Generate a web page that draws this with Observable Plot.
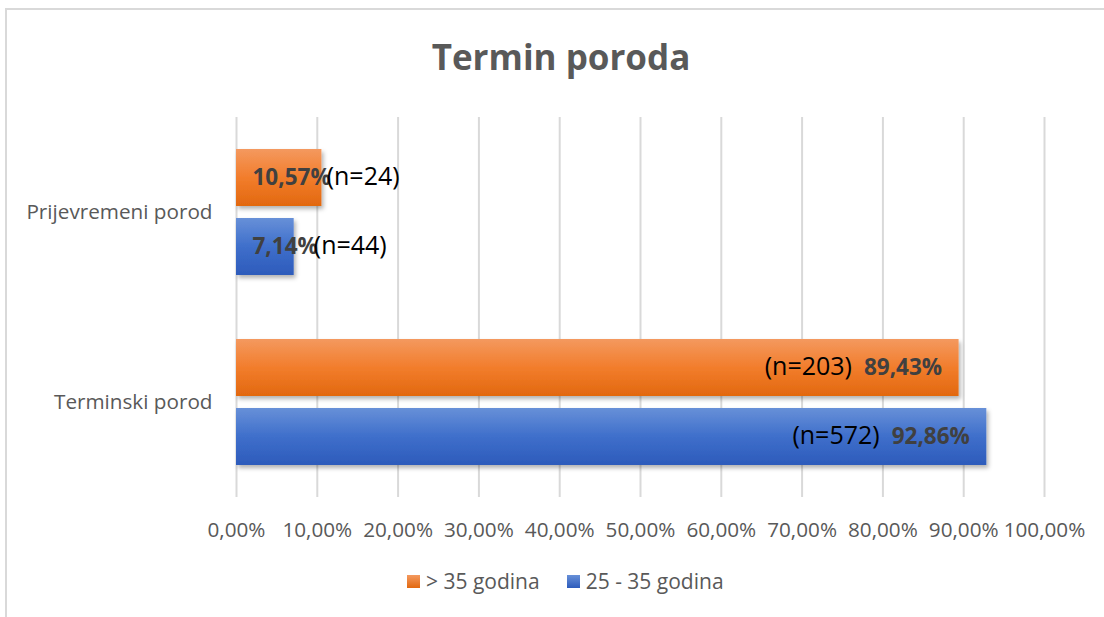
<!DOCTYPE html>
<html>
<head>
<meta charset="utf-8">
<script src="https://cdn.jsdelivr.net/npm/d3@7"></script>
<script src="https://cdn.jsdelivr.net/npm/@observablehq/plot@0.6"></script>
<style>
  body { margin: 0; background: #fff; font-family: "Open Sans", sans-serif; }
  #wrap { position: relative; width: 1104px; height: 617px; overflow: hidden; background: #fff; }
  #frame { position: absolute; left: 5px; top: 8px; width: 1200px; height: 700px; border: 2px solid #d9d9d9; box-sizing: border-box; }
  #title { position: absolute; left: 0; width: 1122px; top: 33px; text-align: center; font-size: 35px; font-weight: bold; color: #595959; }
  #chart { position: absolute; left: 0; top: 0; }
  #legend { position: absolute; top: 567px; left: 407px; font-size: 21px; color: #595959; display: flex; align-items: center; white-space: nowrap; }
  .sw { display: inline-block; width: 13px; height: 13px; margin-right: 6px; }
</style>
</head>
<body>
<div id="wrap">
  <div id="frame"></div>
  <div id="chart"></div>
  <div id="title">Termin poroda</div>
  <div id="legend"></div>
</div>
<script>
// ---- data ----
const categories = ["Prijevremeni porod", "Terminski porod"];
const series = ["> 35 godina", "25 - 35 godina"];
const valuesOver35 = [10.57, 89.43];
const values25to35 = [7.14, 92.86];
const nOver35 = [24, 203];
const n25to35 = [44, 572];
const xTicks = [0, 10, 20, 30, 40, 50, 60, 70, 80, 90, 100];
const seriesColors = ["url(#gradO)", "url(#gradB)"];

const fmtPct = v => v.toFixed(2).replace(".", ",") + "%";
const rows = [];
categories.forEach((c, i) => {
  rows.push({category: c, series: series[0], value: valuesOver35[i], n: nOver35[i]});
  rows.push({category: c, series: series[1], value: values25to35[i], n: n25to35[i]});
});
const labelText = d => fmtPct(d.value) + "|" + "(n=" + d.n + ")";

const svg = Plot.plot({
  width: 1104,
  height: 617,
  marginTop: 117,
  marginBottom: 120,
  marginLeft: 236,
  marginRight: 60,
  style: {fontFamily: "'Open Sans', sans-serif", fontSize: "20.7px", color: "#595959", background: "transparent"},
  facet: {data: rows, y: "category"},
  fy: {domain: categories, padding: 0, label: null, axis: "left", tickSize: 0, tickPadding: 24},
  y: {domain: series, paddingInner: 0.171, paddingOuter: 0.443, axis: null},
  x: {domain: [0, 100], ticks: xTicks, tickFormat: fmtPct, tickSize: 0, tickPadding: 25, label: null},
  marks: [
    Plot.ruleX(xTicks, {x: d => d, stroke: "#d9d9d9", strokeWidth: 2}),
    Plot.barX(rows, {filter: d => d.series === series[0], x: "value", y: "series", fill: seriesColors[0], className: "bars"}),
    Plot.barX(rows, {filter: d => d.series === series[1], x: "value", y: "series", fill: seriesColors[1], className: "bars"}),
    Plot.text(rows, {filter: d => d.value < 50, x: 0, y: "series", text: labelText, textAnchor: "start", dx: 16, className: "lbl-start"}),
    Plot.text(rows, {filter: d => d.value >= 50, x: "value", y: "series", text: labelText, textAnchor: "end", dx: -17, className: "lbl-end"})
  ]
});

const ns = "http://www.w3.org/2000/svg";
const defs = document.createElementNS(ns, "defs");
defs.innerHTML = `
  <linearGradient id="gradO" x1="0" y1="0" x2="0" y2="1">
    <stop offset="0" stop-color="#f4995f"/>
    <stop offset="0.5" stop-color="#f27d2c"/>
    <stop offset="1" stop-color="#e2680f"/>
  </linearGradient>
  <linearGradient id="gradB" x1="0" y1="0" x2="0" y2="1">
    <stop offset="0" stop-color="#6790d8"/>
    <stop offset="0.5" stop-color="#3f6fcb"/>
    <stop offset="1" stop-color="#2d5bbb"/>
  </linearGradient>
  <filter id="shadow" x="-10%" y="-20%" width="130%" height="160%">
    <feDropShadow dx="2" dy="3" stdDeviation="2" flood-color="#000" flood-opacity="0.3"/>
  </filter>`;
svg.insertBefore(defs, svg.firstChild);
svg.querySelectorAll(".bars rect").forEach(r => r.setAttribute("filter", "url(#shadow)"));

svg.querySelectorAll(".lbl-start text, .lbl-end text").forEach(t => {
  const [v, n] = t.textContent.split("|");
  const isEnd = !!t.closest(".lbl-end");
  t.textContent = "";
  const mk = (s, bold, dx) => {
    const ts = document.createElementNS(ns, "tspan");
    ts.textContent = s;
    if (bold) { ts.setAttribute("font-weight", "bold"); ts.setAttribute("fill", "#404040"); ts.setAttribute("font-size", "22.5"); }
    else { ts.setAttribute("fill", "#000"); ts.setAttribute("font-size", "25"); }
    if (dx) ts.setAttribute("dx", dx);
    t.appendChild(ts);
  };
  if (isEnd) { mk(n, false); mk(v, true, 12); }
  else { mk(v, true); mk(n, false, -4); }
});

document.getElementById("chart").appendChild(svg);

const legend = document.getElementById("legend");
const legendGrads = ["linear-gradient(#f4995f, #e2680f)", "linear-gradient(#6790d8, #2d5bbb)"];
series.forEach((s, i) => {
  const item = document.createElement("span");
  item.style.display = "inline-flex";
  item.style.alignItems = "center";
  item.style.marginRight = i === 0 ? "27px" : "0";
  item.innerHTML = `<span class="sw" style="background:${legendGrads[i]}"></span>${s}`;
  legend.appendChild(item);
});
</script>
</body>
</html>
